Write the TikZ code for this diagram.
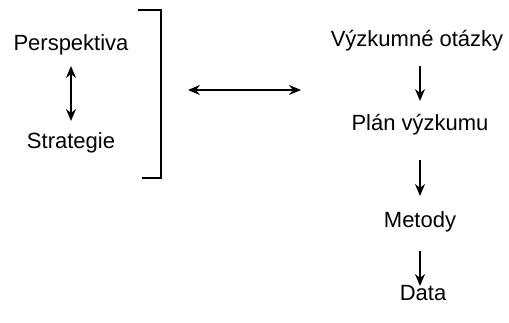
\documentclass[tikz,border=0pt]{standalone}
\usepackage{fontspec}
\setmainfont{Liberation Sans}
\usetikzlibrary{arrows.meta}
\begin{document}
\begin{tikzpicture}[x=1pt,y=-1pt,
  lbl/.style={inner sep=0pt,font=\fontsize{22}{24}\selectfont},
  hd/.style={},
  arr/.style={line width=1.8pt,-{Stealth[length=12pt,width=10pt,inset=4pt]}},
  darr/.style={line width=1.5pt,{Stealth[length=12pt,width=10pt,inset=4pt]}-{Stealth[length=12pt,width=10pt,inset=4pt]}},
  harr/.style={line width=1.2pt,{Stealth[length=12pt,width=10pt,inset=4pt]}-{Stealth[length=12pt,width=10pt,inset=4pt]}},
  brk/.style={line width=1.7pt}]
\useasboundingbox (0,0) rectangle (509,323);
\node[lbl] (persp) at (71,45) {Perspektiva};
\node[lbl] (strat) at (71,143) {Strategie};
\coordinate (pa) at (71,66);
\coordinate (pb) at (71,121);
\draw[darr] (pa) -- (pb);
\coordinate (b1) at (138,10);
\coordinate (b2) at (161,10);
\coordinate (b3) at (161,178);
\coordinate (b4) at (142,178);
\draw[brk] (b1) -- (b2) -- (b3) -- (b4);
\coordinate (h1) at (188,90);
\coordinate (h2) at (301,90);
\draw[harr] (h1) -- (h2);
\node[lbl] (vo) at (417,41) {Výzkumné otázky};
\node[lbl] (pv) at (420,125) {Plán výzkumu};
\node[lbl] (me) at (420,222) {Metody};
\node[lbl] (da) at (423,293) {Data};
\coordinate (a1s) at (420,66);
\coordinate (a1e) at (420,101);
\coordinate (a2s) at (420,160);
\coordinate (a2e) at (420,196);
\coordinate (a3s) at (420,251);
\coordinate (a3e) at (420,286);
\draw[arr] (a1s) -- (a1e);
\draw[arr] (a2s) -- (a2e);
\draw[arr] (a3s) -- (a3e);
\end{tikzpicture}
\end{document}
